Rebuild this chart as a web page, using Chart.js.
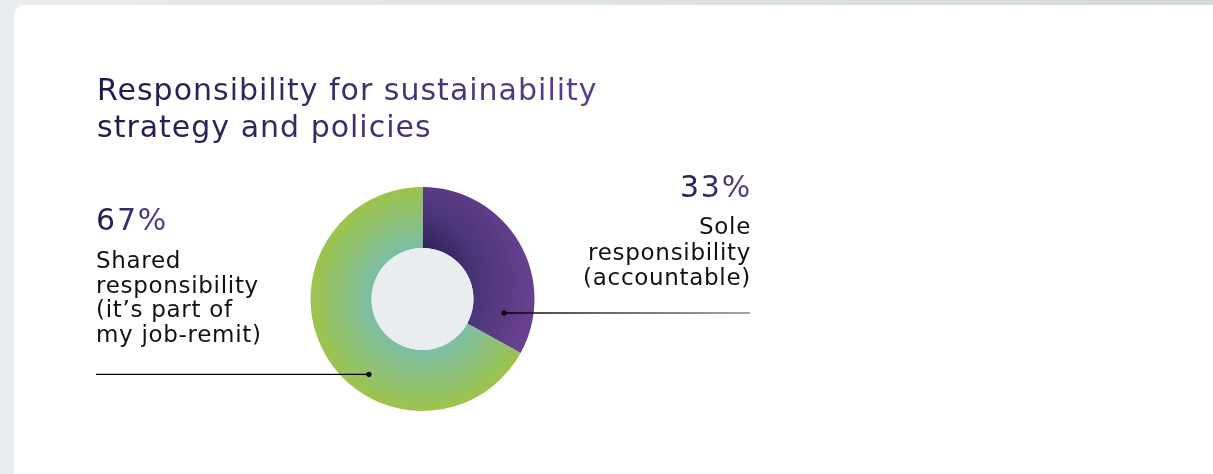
<!DOCTYPE html>
<html>
<head>
<meta charset="utf-8">
<script src="https://cdn.jsdelivr.net/npm/chart.js@4.4.1/dist/chart.umd.min.js"></script>
<style>
html,body{margin:0;padding:0;}
body{width:1213px;height:474px;overflow:hidden;position:relative;
 background:#e9edf0;font-family:"DejaVu Sans",sans-serif;}
.strip{position:absolute;left:0;top:0;width:1213px;height:6px;
 background:linear-gradient(90deg,#e9edf0,#d4d9dc);}
.card{position:absolute;left:14px;top:5px;width:1230px;height:500px;
 background:#fff;border-radius:10px;}
#chart{position:absolute;left:0;top:0;}
.grad{background:linear-gradient(90deg,#1c1c4c 0%,#5f3c8f 100%);
 -webkit-background-clip:text;background-clip:text;color:transparent;}
.title{position:absolute;left:97px;top:71px;font-size:30px;line-height:37px;letter-spacing:1px;}
.pct{position:absolute;font-size:30px;line-height:30px;letter-spacing:1.8px;}
.lbl{position:absolute;font-size:23px;line-height:24.5px;color:#111;letter-spacing:0.7px;}
</style>
</head>
<body>
<div class="strip"></div>
<div class="card"></div>
<canvas id="chart" width="1213" height="474"></canvas>
<div class="title grad">Responsibility for sustainability<br>strategy and policies</div>
<div class="pct grad" id="pctLeft" style="left:96px;top:205px;"></div>
<div class="lbl" id="lblLeft" style="left:96px;top:248px;"></div>
<div class="pct grad" id="pctRight" style="right:461px;top:172px;text-align:right;"></div>
<div class="lbl" id="lblRight" style="right:462px;top:214px;line-height:25.5px;text-align:right;"></div>
<script>
const labels=["Sole responsibility (accountable)","Shared responsibility (it’s part of my job-remit)"];
const values=[33,67];
const labelLines=[["Sole","responsibility","(accountable)"],["Shared","responsibility","(it’s part of","my job-remit)"]];

// slice shading: radial stops, glow centre shifted by (dx,dy) as a share of the outer radius
const shading=[
 {dx:-0.14,dy:-0.14,r0:0.3,r1:1.12,stops:[[0,"#2e1f57"],[0.42,"#4b3579"],[1,"#68408f"]]},
 {dx:0,dy:0,r0:0.455,r1:1,stops:[[0,"#7cbea6"],[1,"#9dc34a"]]}
];
const cutoutShare=0.455;

// where each leader line starts inside its slice (degrees from 12 o'clock, share of ring depth) and how far it runs
const leaders=[{angle:99.7,depth:0.52,toX:750,from:"#000",to:"#888"},{angle:215.4,depth:0.68,toX:96,from:"#000",to:"#000"}];

document.getElementById("pctRight").textContent=values[0]+"%";
document.getElementById("pctLeft").textContent=values[1]+"%";
document.getElementById("lblRight").innerHTML=labelLines[0].join("<br>");
document.getElementById("lblLeft").innerHTML=labelLines[1].join("<br>");

function ringFill(ctx){
 const s=shading[ctx.dataIndex];
 const area=ctx.chart.chartArea;
 if(!area)return s.stops[s.stops.length-1][1];
 const outer=Math.min(area.right-area.left,area.bottom-area.top)/2;
 const cx=(area.left+area.right)/2+s.dx*outer,cy=(area.top+area.bottom)/2+s.dy*outer;
 const g=ctx.chart.ctx.createRadialGradient(cx,cy,outer*s.r0,cx,cy,outer*s.r1);
 s.stops.forEach(([o,col])=>g.addColorStop(o,col));
 return g;
}

const holeAndLeaders={
 id:"holeAndLeaders",
 afterDatasetsDraw(chart){
  const c=chart.ctx;
  const arc=chart.getDatasetMeta(0).data[0];
  c.save();
  c.fillStyle="#e9edf0";
  c.beginPath();
  c.arc(arc.x,arc.y,arc.innerRadius,0,Math.PI*2);
  c.fill();
  leaders.forEach(l=>{
   const r=arc.innerRadius+(arc.outerRadius-arc.innerRadius)*l.depth;
   const t=(l.angle-90)*Math.PI/180;
   const x=arc.x+r*Math.cos(t),y=arc.y+r*Math.sin(t);
   const g=c.createLinearGradient(x,y,l.toX,y);
   g.addColorStop(0,l.from);g.addColorStop(1,l.to);
   c.strokeStyle=g;c.lineWidth=1.4;
   c.beginPath();c.moveTo(x,y);c.lineTo(l.toX,y);c.stroke();
   c.fillStyle="#000";
   c.beginPath();c.arc(x,y,2.6,0,Math.PI*2);c.fill();
  });
  c.restore();
 }
};

new Chart(document.getElementById("chart"),{
 type:"doughnut",
 data:{labels,datasets:[{data:values,backgroundColor:ringFill,borderWidth:0,hoverOffset:0}]},
 options:{
  responsive:false,
  animation:false,
  cutout:(cutoutShare*100)+"%",
  layout:{padding:{left:310,right:678,top:187,bottom:63}},
  plugins:{legend:{display:false},tooltip:{enabled:false}},
  events:[]
 },
 plugins:[holeAndLeaders]
});
</script>
</body>
</html>
